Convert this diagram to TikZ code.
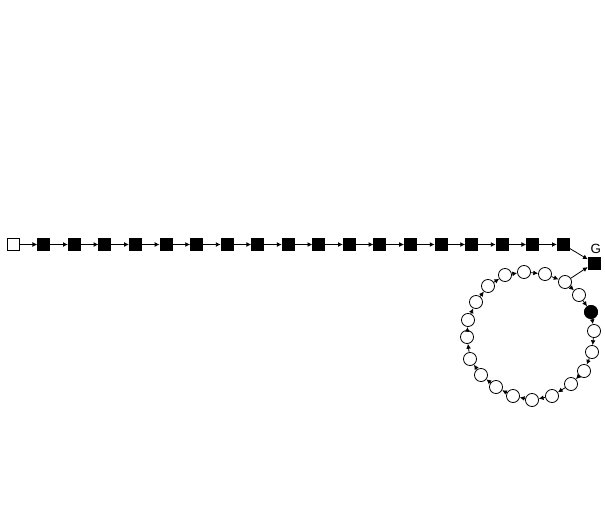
\documentclass[tikz,border=0pt]{standalone}
\usepackage{fontspec}
\setmainfont{Liberation Sans}
\usetikzlibrary{positioning, arrows.meta}

\tikzset{
    link/.style={-{Latex[length=3.6pt, width=3.6pt]}, line width=0.6pt},
    whitebox/.style={draw, rectangle, line width=0.6pt, minimum size=9pt, inner sep=0pt},
    blackbox/.style={draw, fill=black, rectangle, minimum size=9pt, inner sep=0pt},
    ringnode/.style={draw, circle, line width=0.6pt, fill=white, minimum size=9.8pt, inner sep=0pt}
}

\begin{document}
\begin{tikzpicture}[x=0.75pt, y=-0.75pt] % pixel units, y pointing down
    \useasboundingbox (0,0) rectangle (605,529);

    % Chain
    \node[whitebox] (s0) at (13,244.5) {};
    \foreach \i in {1,...,18}
        \node[blackbox] (s\i) at (13+30.56*\i,244.5) {};

    % Goal
    \node[blackbox] (goal) at (594,263) {};
    \node[font=\fontsize{10}{12}\selectfont] (glabel) at (595.7,248.5) {G};

    % Ring
    \foreach \x/\y [count=\i from 0] in {565/282, 579/295, 591/312, 594/331, 592/352,
            584/371, 571/384, 552/396, 532/400, 513/396, 496/387, 481/375, 470/359,
            467/337, 468/320, 476/302, 488/286, 505/275, 524/272, 545/274}
        \node[ringnode] (c\i) at (\x,\y) {};
    \node[ringnode, fill=black] at (c2) {};

    % Arrows
    \foreach \i [count=\j from 1] in {0,...,17}
        \draw[link] (s\i) -- (s\j);
    \foreach \i in {0,...,19} {
        \pgfmathtruncatemacro{\j}{mod(\i+1,20)}
        \draw[link] (c\i) -- (c\j);
    }
    \draw[link] (s18) -- (goal);
    \draw[link] (c0) -- (goal);
\end{tikzpicture}
\end{document}
